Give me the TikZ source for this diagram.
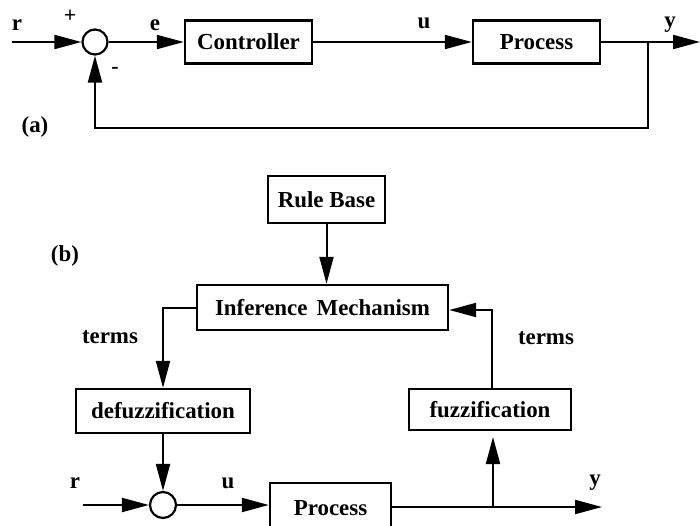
\documentclass[tikz,border=0pt]{standalone}
\usepackage{fontspec}
\setmainfont{Liberation Serif}
\usetikzlibrary{arrows.meta}
\begin{document}
\begin{tikzpicture}[x=1bp,y=-1bp,
  line width=2bp,
  >={Triangle[length=27bp,width=14bp]},
  blk/.style={draw,line width=2.4bp,inner sep=0pt,font=\fontsize{23}{26}\selectfont\bfseries},
  sumc/.style={draw,circle,minimum size=25bp,inner sep=0pt,line width=2.2bp},
  lbl/.style={font=\fontsize{23}{26}\selectfont\bfseries,inner sep=0pt},
  sgn/.style={font=\fontsize{22}{24}\selectfont\bfseries,inner sep=0pt}
]
\useasboundingbox (0,0) rectangle (700,526);
\clip (0,0) rectangle (700,526);

% ---------- (a) ----------
\node[sumc] (s1) at (95,42) {};
\node[blk,minimum width=127bp,minimum height=43bp] (ctrl) at (248.5,42) {Controller};
\node[blk,minimum width=127bp,minimum height=43bp] (p1) at (536.5,42) {Process};
\coordinate (rin) at (12,42);
\coordinate (br1) at (648,42);
\coordinate (yout) at (700,42);
\coordinate (fb) at (648,128);
\draw[->] (rin) -- (s1.west);
\draw[->] (s1.east) -- (ctrl.west);
\draw[->] (ctrl.east) -- (p1.west);
\draw[->] (p1.east) -- (yout);
\draw[->] (br1) -- (fb) -| (s1.south);
\node[lbl] (lr1) at (17,25) {r};
\node[sgn] (lplus) at (70,16) {+};
\node[sgn] (lminus) at (115,70) {-};
\node[lbl] (le) at (155,25) {e};
\node[lbl] (lu1) at (424,23) {u};
\node[lbl] (ly1) at (670,25) {y};
\node[lbl] (la) at (35,127) {(a)};

% ---------- (b) ----------
\node[lbl] (lb) at (65,256) {(b)};
\node[blk,minimum width=117bp,minimum height=47bp] (rule) at (326.5,199.5) {Rule Base};
\node[blk,minimum width=251bp,minimum height=45bp] (inf) at (322.5,307.5) {Inference\hspace{0.15em} Mechanism};
\node[blk,minimum width=174bp,minimum height=44bp] (defz) at (163,411) {defuzzification};
\node[blk,minimum width=162bp,minimum height=41bp] (fuzz) at (490,409.5) {fuzzification};
\node[sumc,minimum size=26bp] (s2) at (163,505) {};
\node[blk,minimum width=121bp,minimum height=50bp] (p2) at (330.5,508) {Process};

\coordinate (rin2) at (83,505);
\coordinate (lcorner) at (163,307.5);
\coordinate (rcorner) at (492,310);
\coordinate (br2) at (493,507);
\coordinate (fuzzin) at (493,437);
\coordinate (yout2) at (602,507);

\draw[->] (rule.south) -- (rule.south |- inf.north);
\draw[->] (inf.west) -- (lcorner) -- (defz.north);
\draw[->] (defz.south) -- (s2.north);
\draw[->] (rin2) -- (s2.west);
\draw[->] (s2.east) -- (s2.east -| p2.west);
\draw[->] (p2.east |- br2) -- (yout2);
\draw[->] (br2) -- (fuzzin);
\draw[->] (fuzz.north -| rcorner) -- (rcorner) -- (rcorner -| inf.east);

\node[lbl] (lt1) at (110,337) {terms};
\node[lbl] (lt2) at (546,338) {terms};
\node[lbl] (lr2) at (75,483) {r};
\node[lbl] (lu2) at (228,483) {u};
\node[lbl] (ly2) at (595,483) {y};
\end{tikzpicture}
\end{document}
